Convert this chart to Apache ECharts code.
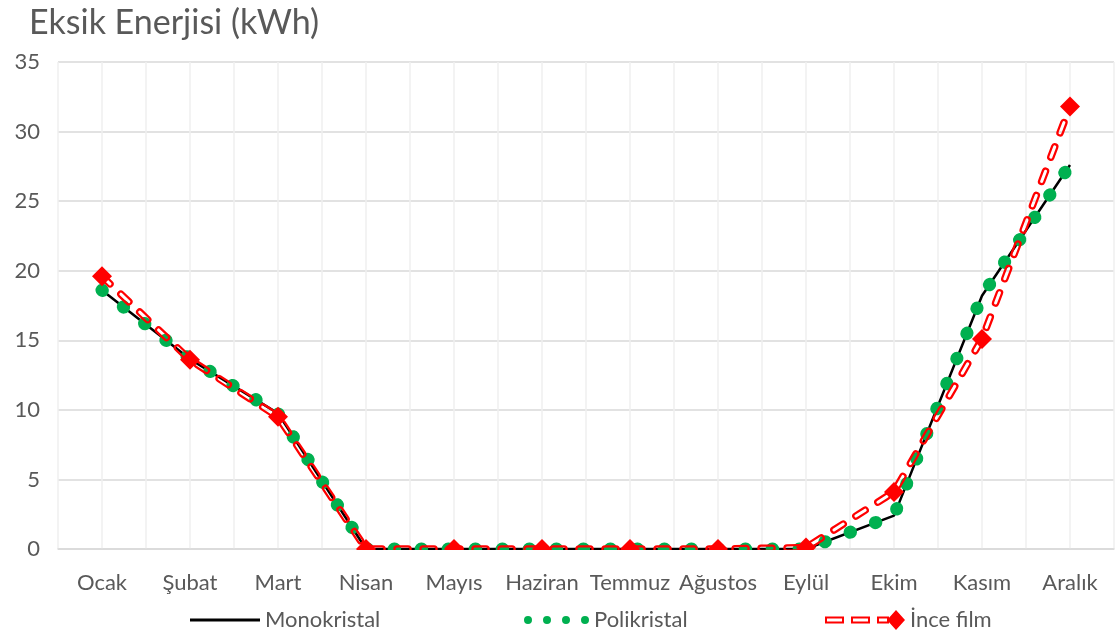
<!DOCTYPE html>
<html>
<head>
<meta charset="utf-8">
<script src="https://cdn.jsdelivr.net/npm/echarts@6/dist/echarts.min.js"></script>
<style>
  html, body { margin: 0; padding: 0; background: #ffffff; }
  #chart { width: 1117px; height: 637px; }
</style>
</head>
<body>
<div id="chart"></div>
<script>
// Monthly shortfall energy for three PV module types
const months = ['Ocak', 'Şubat', 'Mart', 'Nisan', 'Mayıs', 'Haziran', 'Temmuz', 'Ağustos', 'Eylül', 'Ekim', 'Kasım', 'Aralık'];
const monokristal = [18.6, 13.65, 9.75, 0, 0, 0, 0, 0, 0, 2.4, 18.2, 27.6];
const polikristal = [18.6, 13.65, 9.75, 0, 0, 0, 0, 0, 0, 2.4, 18.2, 27.6];
const inceFilm = [19.6, 13.6, 9.5, 0, 0, 0, 0, 0, 0.1, 4.1, 15.1, 31.8];
const yTicks = { min: 0, max: 35, step: 5 };

const FONT = 'Lato';
const GREY = '#595959';
const HOLE = '#fffffe';
const GRID = { left: 58, right: 0, top: 62, bottom: 88 };

// months sit in the middle of each unit on the x scale
const pairs = vals => vals.map((v, i) => [i + 0.5, v]);

const inceIcon = 'path://' +
  'M0,6.5 H19 V13.5 H0 Z M2,8.5 V11.5 H17 V8.5 Z ' +
  'M26,6.5 H45 V13.5 H26 Z M28,8.5 V11.5 H43 V8.5 Z ' +
  'M52,6.5 H64 V13.5 H52 Z M54,8.5 V11.5 H62 V8.5 Z ' +
  'M62,10 L71,0 L80,10 L71,20 Z';
const dotIcon = 'path://' +
  'M0,4 a4,4 0 1,0 8,0 a4,4 0 1,0 -8,0 Z ' +
  'M19,4 a4,4 0 1,0 8,0 a4,4 0 1,0 -8,0 Z ' +
  'M38,4 a4,4 0 1,0 8,0 a4,4 0 1,0 -8,0 Z ' +
  'M57,4 a4,4 0 1,0 8,0 a4,4 0 1,0 -8,0 Z';

const chart = echarts.init(document.getElementById('chart'), null, { renderer: 'canvas' });
const H = 637, W = 1117;
const legendText = { fontFamily: FONT, fontSize: 22, color: GREY };

const option = {
  animation: false,
  title: {
    text: 'Eksik Enerjisi (kWh)',
    left: 24, top: 1,
    textStyle: { fontFamily: FONT, fontSize: 34, fontWeight: 'normal', color: GREY }
  },
  grid: GRID,
  legend: [
    { data: [{ name: 'Monokristal', icon: 'path://M0,0 H70 V3 H0 Z' }], left: 185, top: 604,
      itemWidth: 70, itemHeight: 3, textStyle: legendText, selectedMode: false },
    { data: [{ name: 'Polikristal', icon: dotIcon }], left: 519, top: 604,
      itemWidth: 65, itemHeight: 8, textStyle: legendText, selectedMode: false },
    { data: [{ name: 'İnce film', icon: inceIcon }], left: 820, top: 604,
      itemWidth: 80, itemHeight: 20, textStyle: legendText, selectedMode: false }
  ],
  xAxis: {
    type: 'value', min: 0, max: months.length, interval: 0.5,
    axisLine: { show: true, lineStyle: { color: '#d9d9d9', width: 1.5 } },
    axisTick: { show: false },
    splitLine: { show: true, lineStyle: { color: '#efefef', width: 1.5 } },
    axisLabel: {
      fontFamily: FONT, fontSize: 22, color: GREY, margin: 23,
      formatter: v => {
        const i = Math.floor(v);
        return Math.abs(v - i - 0.5) < 1e-6 && months[i] ? months[i] : '';
      }
    }
  },
  yAxis: {
    type: 'value', min: yTicks.min, max: yTicks.max, interval: yTicks.step,
    axisLine: { show: false }, axisTick: { show: false },
    splitLine: { lineStyle: { color: '#d9d9d9', width: 1.5 } },
    axisLabel: { fontFamily: FONT, fontSize: 22, color: GREY, margin: 18 }
  },
  series: [
    { name: 'Monokristal', type: 'line', data: pairs(monokristal), z: 2,
      symbol: 'none', itemStyle: { color: '#000000' },
      lineStyle: { color: '#000000', width: 2.5 } },
    { name: 'Polikristal', type: 'line', data: pairs(polikristal), z: 3,
      symbol: 'none', itemStyle: { color: '#00B050' },
      lineStyle: { color: '#00B050', width: 13, type: [0.5, 26.5], cap: 'round' } },
    { name: 'İnce film', type: 'line', data: pairs(inceFilm), zlevel: 1, z: 2,
      symbol: 'none', itemStyle: { color: '#FF0000' },
      lineStyle: { color: '#FF0000', width: 7.5, type: [11, 15], cap: 'round' } },
    // hollow centre of the dashes, cut out of the red layer after render
    { name: 'ince-hole', type: 'line', data: pairs(inceFilm), zlevel: 1, z: 5, silent: true,
      symbol: 'none', itemStyle: { color: HOLE },
      lineStyle: { color: HOLE, width: 3, type: [11, 15], cap: 'round' } },
    { name: 'ince-marker', type: 'scatter', data: pairs(inceFilm), zlevel: 2, z: 2, silent: true,
      symbol: 'diamond', symbolSize: 20, itemStyle: { color: '#FF0000', opacity: 1 } }
  ],
  // plot area clips marks at the zero line
  graphic: { elements: [{
    type: 'rect', zlevel: 2, z: 100, silent: true,
    shape: { x: GRID.left, y: H - GRID.bottom + 1, width: W - GRID.left, height: 12 },
    style: { fill: '#ffffff' }
  }] }
};

chart.setOption(option);

// punch the dash centres through on their own layer so lines below show
const zr = chart.getZr();
zr.storage.getDisplayList(true).forEach(el => {
  if (el.style && typeof el.style.stroke === 'string' && el.style.stroke.toLowerCase() === HOLE) {
    el.style.blend = 'destination-out';
    el.markRedraw();
  }
});
zr.refreshImmediately();
</script>
</body>
</html>
